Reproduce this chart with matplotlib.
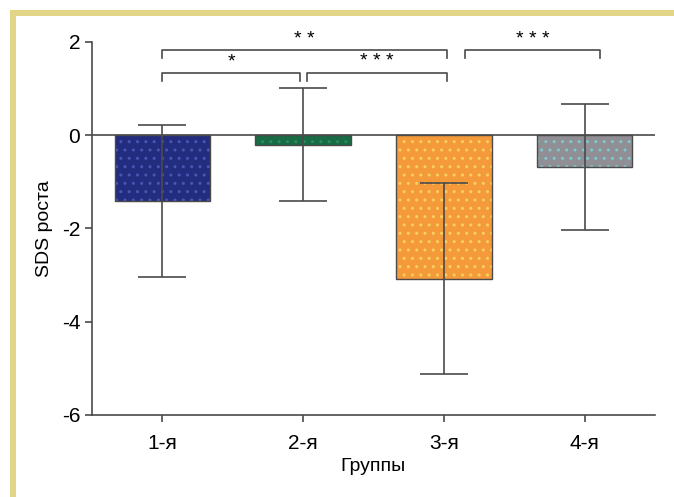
import matplotlib
matplotlib.use("Agg")
import matplotlib.pyplot as plt
from matplotlib.patches import Rectangle

plt.rcParams['font.family'] = ['Liberation Sans', 'DejaVu Sans']

# Data
groups = ["1-я", "2-я", "3-я", "4-я"]
means = [-1.41, -0.20, -3.08, -0.68]
sds = [1.64, 1.22, 2.05, 1.36]
colors = ["#232d80", "#176b45", "#f59a3a", "#8f8f95"]
dot_colors = ["#4a55b0", "#2f8a5a", "#f7d060", "#7fc8d0"]

# significance brackets: (x_left, x_right, y, label)
brackets = [
    (0.0, 2.02, 1.82, "* *"),
    (2.15, 3.11, 1.82, "* * *"),
    (0.0, 0.975, 1.33, "*"),
    (1.03, 2.02, 1.33, "* * *"),
]

line_col = "#4a4a4a"

fig = plt.figure(figsize=(6.74, 4.97), dpi=100)
ax = fig.add_axes([0.1365, 0.165, 0.8353, 0.7505])

x = range(len(groups))
ax.bar(x, means, width=0.68, color=colors, edgecolor="none", zorder=2)
ax.bar(x, means, width=0.68, color="none", edgecolor=dot_colors, hatch="..", linewidth=0, zorder=2.5)
ax.bar(x, means, width=0.68, color="none", edgecolor=line_col, linewidth=1.0, zorder=3)
ax.errorbar(x, means, yerr=sds, fmt="none", ecolor=line_col, elinewidth=1.2,
            capsize=17.5, capthick=1.2, zorder=4)

ax.axhline(0, color=line_col, lw=1.2, zorder=3)

for x0, x1, y, lab in brackets:
    ax.plot([x0, x0, x1, x1], [y - 0.17, y, y, y - 0.17], color=line_col, lw=1.2,
            clip_on=False, zorder=4)
    ax.text((x0 + x1) / 2, y + 0.06, lab, ha="center", va="bottom", fontsize=14,
            clip_on=False)

ax.set_xlim(-0.5, 3.5)
ax.set_ylim(-6, 2)
ax.set_yticks([-6, -4, -2, 0, 2])
ax.set_yticklabels(["-6", "-4", "-2", "0", "2"])
ax.set_xticks(list(x))
ax.set_xticklabels(groups)
ax.tick_params(labelsize=15, color=line_col, width=1.2, length=5)
ax.tick_params(axis="x", pad=9)
ax.set_xlabel("Группы", fontsize=14, labelpad=3)
ax.set_ylabel("SDS роста", fontsize=14, labelpad=6)

for s in ["top", "right"]:
    ax.spines[s].set_visible(False)
for s in ["left", "bottom"]:
    ax.spines[s].set_color(line_col)
    ax.spines[s].set_linewidth(1.2)

# yellow frame (top and left)
fig.add_artist(Rectangle((10 / 674, 0), 6 / 674, 1 - 10 / 497, transform=fig.transFigure,
                         color="#e3d587", lw=0))
fig.add_artist(Rectangle((10 / 674, 1 - 16 / 497), 1, 6 / 497, transform=fig.transFigure,
                         color="#e3d587", lw=0))

fig.savefig("out.png", dpi=100)
